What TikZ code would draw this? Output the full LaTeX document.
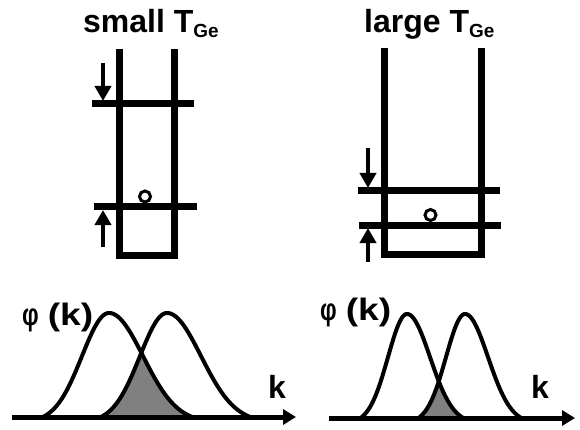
\documentclass[tikz,border=0pt]{standalone}
\usepackage{fontspec}
\setmainfont{Liberation Sans}
\usetikzlibrary{arrows.meta}
\begin{document}
\begin{tikzpicture}[x=1pt,y=-1pt,
  frame/.style={line width=7pt, line join=miter},
  bar/.style={line width=7pt},
  push/.style={line width=4pt, -{Triangle[width=16pt,length=15pt]}},
  dot/.style={line width=3pt},
  curve/.style={line width=4pt, line join=round},
  axis/.style={line width=5pt, -{Triangle[width=15pt,length=13pt]}},
  overlap/.style={fill=black!50},
  title/.style={font=\bfseries\fontsize{32}{32}\selectfont, inner sep=0pt, anchor=base west},
  lab/.style={font=\bfseries\fontsize{31}{31}\selectfont, inner sep=0pt, anchor=base west},
  declare function={
    bump(\x,\m,\a,\b)=(\x<\m) ? exp(-0.5*((\x-\m)/\a)^2) : exp(-0.5*((\x-\m)/\b)^2);
    prof(\x,\m,\a,\b)=max(0,(bump(\x,\m,\a,\b)-0.05)/0.95);}
]
\useasboundingbox (0,0) rectangle (580,430);

% ---------- titles ----------
\node[title] (t1) at (83,33) {small T\raisebox{-5pt}{\fontsize{19}{19}\selectfont Ge}};
\node[title] (t2) at (364,33) {large T\raisebox{-5pt}{\fontsize{19}{19}\selectfont Ge}};

% ---------- left well ----------
\draw[frame] (119,49) -- (119,255) -- (174,255) -- (174,49);
\draw[bar] (92,104) -- (194,104);
\draw[bar] (94,207) -- (197,207);
\coordinate (a1s) at (103,63);  \coordinate (a1e) at (103,101);
\coordinate (a2s) at (103,247); \coordinate (a2e) at (103,210);
\draw[push] (a1s) -- (a1e);
\draw[push] (a2s) -- (a2e);
\draw[dot] (145,196.5) circle[radius=5.5];

% ---------- right well ----------
\draw[frame] (384,48) -- (384,254) -- (481,254) -- (481,48);
\draw[bar] (358,191) -- (500,191);
\draw[bar] (359,225) -- (501,225);
\coordinate (b1s) at (368,148); \coordinate (b1e) at (368,188);
\coordinate (b2s) at (368,262); \coordinate (b2e) at (368,228);
\draw[push] (b1s) -- (b1e);
\draw[push] (b2s) -- (b2e);
\draw[dot] (430.5,215) circle[radius=5.5];

% ---------- left distributions ----------
\fill[overlap] plot[domain=100:194, samples=120]
  (\x,{417-104*min(prof(\x,109,27,34),prof(\x,167,27,34))}) -- cycle;
\draw[curve] plot[domain=38:198, samples=160] (\x,{417-104*prof(\x,109,27,34)});
\draw[curve] plot[domain=96:256, samples=160] (\x,{417-104*prof(\x,167,27,34)});
\coordinate (ax1s) at (12,417); \coordinate (ax1e) at (296,417);
\draw[axis] (ax1s) -- (ax1e);
\node[lab] (phi1) at (22,325) {\scalebox{0.75}[1]{φ}\hspace{9pt}\scalebox{1.2}[1]{(k)}};
\node[title] (k1) at (268,398) {k};

% ---------- right distributions ----------
\fill[overlap] plot[domain=416:466, samples=100]
  (\x,{418-104*min(prof(\x,407,19,23),prof(\x,465,19,23))}) -- cycle;
\draw[curve] plot[domain=356:468, samples=140] (\x,{418-104*prof(\x,407,19,23)});
\draw[curve] plot[domain=414:526, samples=140] (\x,{418-104*prof(\x,465,19,23)});
\coordinate (ax2s) at (329,418); \coordinate (ax2e) at (575,418);
\draw[axis] (ax2s) -- (ax2e);
\node[lab] (phi2) at (320,320) {\scalebox{0.75}[1]{φ}\hspace{9pt}\scalebox{1.2}[1]{(k)}};
\node[title] (k2) at (531,398) {k};
\end{tikzpicture}
\end{document}
